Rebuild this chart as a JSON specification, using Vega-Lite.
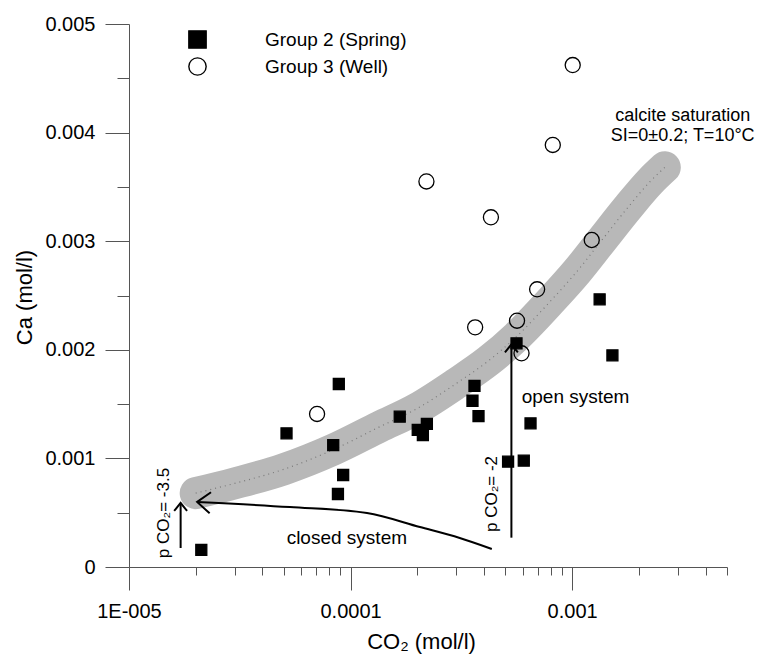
{
  "$schema": "https://vega.github.io/schema/vega-lite/v6.json",
  "width": 598,
  "height": 543,
  "autosize": "none",
  "padding": {"left": 129, "top": 24, "right": 36, "bottom": 88},
  "background": "white",
  "config": {
    "font": "Liberation Sans",
    "view": {"stroke": null},
    "legend": {
      "title": null, "orient": "none", "legendX": 59, "legendY": 6, "padding": 0,
      "labelFontSize": 19, "labelColor": "black", "labelOffset": 58,
      "symbolSize": 300, "rowPadding": 4, "symbolStrokeWidth": 1.4
    }
  },
  "datasets": {
    "pts": [
      {"co2": 0.0000212, "ca": 0.000157, "group": "Group 2 (Spring)"},
      {"co2": 0.0000514, "ca": 0.001231, "group": "Group 2 (Spring)"},
      {"co2": 0.0000835, "ca": 0.001123, "group": "Group 2 (Spring)"},
      {"co2": 0.0000885, "ca": 0.001685, "group": "Group 2 (Spring)"},
      {"co2": 0.0000926, "ca": 0.000847, "group": "Group 2 (Spring)"},
      {"co2": 0.0000877, "ca": 0.000672, "group": "Group 2 (Spring)"},
      {"co2": 0.0001667, "ca": 0.001384, "group": "Group 2 (Spring)"},
      {"co2": 0.000201, "ca": 0.001262, "group": "Group 2 (Spring)"},
      {"co2": 0.000221, "ca": 0.001317, "group": "Group 2 (Spring)"},
      {"co2": 0.000212, "ca": 0.001215, "group": "Group 2 (Spring)"},
      {"co2": 0.0003625, "ca": 0.001667, "group": "Group 2 (Spring)"},
      {"co2": 0.000355, "ca": 0.001531, "group": "Group 2 (Spring)"},
      {"co2": 0.000378, "ca": 0.00139, "group": "Group 2 (Spring)"},
      {"co2": 0.000514, "ca": 0.00097, "group": "Group 2 (Spring)"},
      {"co2": 0.000605, "ca": 0.000979, "group": "Group 2 (Spring)"},
      {"co2": 0.000561, "ca": 0.00206, "group": "Group 2 (Spring)"},
      {"co2": 0.000649, "ca": 0.001323, "group": "Group 2 (Spring)"},
      {"co2": 0.001331, "ca": 0.002465, "group": "Group 2 (Spring)"},
      {"co2": 0.00152, "ca": 0.001949, "group": "Group 2 (Spring)"},
      {"co2": 0.0000706, "ca": 0.001409, "group": "Group 3 (Well)"},
      {"co2": 0.000365, "ca": 0.002207, "group": "Group 3 (Well)"},
      {"co2": 0.000564, "ca": 0.002268, "group": "Group 3 (Well)"},
      {"co2": 0.000591, "ca": 0.001968, "group": "Group 3 (Well)"},
      {"co2": 0.000695, "ca": 0.002557, "group": "Group 3 (Well)"},
      {"co2": 0.001226, "ca": 0.003011, "group": "Group 3 (Well)"},
      {"co2": 0.000818, "ca": 0.003886, "group": "Group 3 (Well)"},
      {"co2": 0.001006, "ca": 0.004622, "group": "Group 3 (Well)"},
      {"co2": 0.00022, "ca": 0.00355, "group": "Group 3 (Well)"},
      {"co2": 0.00043, "ca": 0.00322, "group": "Group 3 (Well)"}
    ],
    "band": [
      {"co2": 0.00002, "ca": 0.00068, "o": 1},
      {"co2": 0.00003, "ca": 0.00077, "o": 2},
      {"co2": 0.00005, "ca": 0.0009, "o": 3},
      {"co2": 0.0000835, "ca": 0.00108, "o": 4},
      {"co2": 0.000135, "ca": 0.00129, "o": 5},
      {"co2": 0.0002, "ca": 0.00146, "o": 6},
      {"co2": 0.0003, "ca": 0.00169, "o": 7},
      {"co2": 0.00042, "ca": 0.0019, "o": 8},
      {"co2": 0.00056, "ca": 0.00212, "o": 9},
      {"co2": 0.0008, "ca": 0.00245, "o": 10},
      {"co2": 0.00105, "ca": 0.00272, "o": 11},
      {"co2": 0.00135, "ca": 0.003, "o": 12},
      {"co2": 0.0018, "ca": 0.00332, "o": 13},
      {"co2": 0.00225, "ca": 0.00355, "o": 14},
      {"co2": 0.00262, "ca": 0.00368, "o": 15}
    ],
    "arrows": [
      {"id": "closed", "o": 1, "co2": 0.0000203, "ca": 0.000599},
      {"id": "closed", "o": 2, "co2": 0.0000532, "ca": 0.000552},
      {"id": "closed", "o": 3, "co2": 0.0001186, "ca": 0.000497},
      {"id": "closed", "o": 4, "co2": 0.0002056, "ca": 0.000368},
      {"id": "closed", "o": 5, "co2": 0.000311, "ca": 0.000267},
      {"id": "closed", "o": 6, "co2": 0.000434, "ca": 0.000166},
      {"id": "small", "o": 1, "co2": 0.0000171, "ca": 0.000175},
      {"id": "small", "o": 2, "co2": 0.0000171, "ca": 0.00059},
      {"id": "open", "o": 1, "co2": 0.000532, "ca": 0.00027},
      {"id": "open", "o": 2, "co2": 0.000532, "ca": 0.00205}
    ],
    "heads": [
      {"id": "closed", "co2": 0.0000203, "ca": 0.000599},
      {"id": "small", "co2": 0.0000171, "ca": 0.00059},
      {"id": "open", "co2": 0.000532, "ca": 0.00205}
    ],
    "notes": [
      {"id": "calcite", "co2": 0.003155, "ca": 0.00411, "label": "calcite saturation\nSI=0±0.2; T=10°C"},
      {"id": "open", "co2": 0.000592, "ca": 0.001565, "label": "open system"},
      {"id": "closed", "co2": 0.0000962, "ca": 0.000267, "label": "closed system"},
      {"id": "rot", "co2": 0.00001438, "ca": 0.000497, "label": "p CO₂= -3.5"},
      {"id": "rot", "co2": 0.000434, "ca": 0.000672, "label": "p CO₂= -2"}
    ]
  },
  "layer": [
    {
      "data": {"name": "band"},
      "mark": {"type": "line", "stroke": "#b8b8b8", "strokeWidth": 32, "strokeCap": "round", "strokeJoin": "round", "interpolate": "monotone"},
      "encoding": {
        "x": {
          "field": "co2", "type": "quantitative",
          "scale": {"type": "log", "domain": [0.00001, 0.005], "nice": false},
          "axis": {
            "values": [0.00001, 0.00002, 0.00003, 0.00004, 0.00005, 0.00006, 0.00007, 0.00008, 0.00009, 0.0001, 0.0002, 0.0003, 0.0004, 0.0005, 0.0006, 0.0007, 0.0008, 0.0009, 0.001, 0.002, 0.003, 0.004, 0.005],
            "tickSize": {"condition": {"test": "datum.value == 0.00001 || datum.value == 0.0001 || datum.value == 0.001", "value": 23}, "value": 8},
            "labelExpr": "datum.value == 0.00001 ? '1E-005' : datum.value == 0.0001 ? '0.0001' : datum.value == 0.001 ? '0.001' : ''",
            "labelFontSize": 20,
            "labelColor": "black",
            "labelPadding": 11,
            "labelFlush": false,
            "labelOverlap": false,
            "labelBound": false,
            "domainColor": "#555555",
            "tickColor": "#555555",
            "grid": false,
            "title": "CO₂  (mol/l)",
            "titleFontSize": 22,
            "titleFontWeight": "normal",
            "titleColor": "black",
            "titleX": 292,
            "titleY": 81,
            "titleBaseline": "alphabetic",
            "titleAlign": "center"
          }
        },
        "y": {
          "field": "ca", "type": "quantitative",
          "scale": {"domain": [0, 0.005], "nice": false, "zero": false},
          "axis": {
            "values": [0, 0.0005, 0.001, 0.0015, 0.002, 0.0025, 0.003, 0.0035, 0.004, 0.0045, 0.005],
            "tickSize": {"condition": {"test": "abs(datum.value*1000 - round(datum.value*1000)) < 0.001", "value": 24}, "value": 12},
            "labelExpr": "abs(datum.value*1000 - round(datum.value*1000)) < 0.001 ? format(datum.value, '.3~f') : ''",
            "labelFontSize": 20,
            "labelColor": "black",
            "labelPadding": 10,
            "labelFlush": false,
            "labelOverlap": false,
            "labelBound": false,
            "domainColor": "#555555",
            "tickColor": "#555555",
            "grid": false,
            "title": "Ca (mol/l)",
            "titleFontSize": 22,
            "titleFontWeight": "normal",
            "titleColor": "black",
            "titleX": -105,
            "titleY": 273,
            "titleBaseline": "middle",
            "titleAlign": "center",
            "titleAngle": 270
          }
        },
        "order": {"field": "o"}
      }
    },
    {
      "data": {"name": "band"},
      "mark": {"type": "line", "stroke": "#7a7a7a", "strokeWidth": 1.2, "strokeDash": [1, 4], "interpolate": "monotone"},
      "encoding": {
        "x": {"field": "co2", "type": "quantitative", "scale": {"type": "log", "domain": [0.00001, 0.005], "nice": false}},
        "y": {"field": "ca", "type": "quantitative", "scale": {"domain": [0, 0.005], "nice": false, "zero": false}},
        "order": {"field": "o"}
      }
    },
    {
      "data": {"name": "arrows"},
      "mark": {"type": "line", "stroke": "black", "strokeWidth": 2, "interpolate": "monotone"},
      "encoding": {
        "x": {"field": "co2", "type": "quantitative", "scale": {"type": "log", "domain": [0.00001, 0.005], "nice": false}},
        "y": {"field": "ca", "type": "quantitative", "scale": {"domain": [0, 0.005], "nice": false, "zero": false}},
        "detail": {"field": "id"},
        "order": {"field": "o"}
      }
    },
    {
      "data": {"name": "heads"},
      "transform": [{"filter": "datum.id == 'closed'"}],
      "mark": {"type": "point", "shape": "M-1,-0.8L0,0L-1,0.8", "filled": false, "stroke": "black", "strokeWidth": 2, "size": 700, "angle": 183.7, "opacity": 1},
      "encoding": {
        "x": {"field": "co2", "type": "quantitative", "scale": {"type": "log", "domain": [0.00001, 0.005], "nice": false}},
        "y": {"field": "ca", "type": "quantitative", "scale": {"domain": [0, 0.005], "nice": false, "zero": false}}
      }
    },
    {
      "data": {"name": "heads"},
      "transform": [{"filter": "datum.id != 'closed'"}],
      "mark": {"type": "point", "shape": "M-1,-0.8L0,0L-1,0.8", "filled": false, "stroke": "black", "strokeWidth": 2, "size": 260, "angle": 270, "opacity": 1},
      "encoding": {
        "x": {"field": "co2", "type": "quantitative", "scale": {"type": "log", "domain": [0.00001, 0.005], "nice": false}},
        "y": {"field": "ca", "type": "quantitative", "scale": {"domain": [0, 0.005], "nice": false, "zero": false}}
      }
    },
    {
      "data": {"name": "pts"},
      "transform": [{"filter": "datum.group == 'Group 2 (Spring)'"}],
      "mark": {"type": "point", "filled": true, "strokeWidth": 1.3, "size": 121, "opacity": 1},
      "encoding": {
        "x": {"field": "co2", "type": "quantitative", "scale": {"type": "log", "domain": [0.00001, 0.005], "nice": false}},
        "y": {"field": "ca", "type": "quantitative", "scale": {"domain": [0, 0.005], "nice": false, "zero": false}},
        "shape": {"field": "group", "type": "nominal", "scale": {"domain": ["Group 2 (Spring)", "Group 3 (Well)"], "range": ["square", "circle"]}},
        "fill": {"field": "group", "type": "nominal", "scale": {"domain": ["Group 2 (Spring)", "Group 3 (Well)"], "range": ["#000000", "transparent"]}},
        "stroke": {"field": "group", "type": "nominal", "scale": {"domain": ["Group 2 (Spring)", "Group 3 (Well)"], "range": ["#000000", "#000000"]}}
      }
    },
    {
      "data": {"name": "pts"},
      "transform": [{"filter": "datum.group == 'Group 3 (Well)'"}],
      "mark": {"type": "point", "filled": true, "strokeWidth": 1.3, "size": 227, "opacity": 1},
      "encoding": {
        "x": {"field": "co2", "type": "quantitative", "scale": {"type": "log", "domain": [0.00001, 0.005], "nice": false}},
        "y": {"field": "ca", "type": "quantitative", "scale": {"domain": [0, 0.005], "nice": false, "zero": false}},
        "shape": {"field": "group", "type": "nominal", "scale": {"domain": ["Group 2 (Spring)", "Group 3 (Well)"], "range": ["square", "circle"]}},
        "fill": {"field": "group", "type": "nominal", "scale": {"domain": ["Group 2 (Spring)", "Group 3 (Well)"], "range": ["#000000", "transparent"]}},
        "stroke": {"field": "group", "type": "nominal", "scale": {"domain": ["Group 2 (Spring)", "Group 3 (Well)"], "range": ["#000000", "#000000"]}}
      }
    },
    {
      "data": {"name": "notes"},
      "transform": [{"filter": "datum.id == 'calcite'"}],
      "mark": {"type": "text", "fontSize": 18, "lineBreak": "\n", "lineHeight": 20, "align": "center", "baseline": "alphabetic", "color": "black"},
      "encoding": {
        "x": {"field": "co2", "type": "quantitative", "scale": {"type": "log", "domain": [0.00001, 0.005], "nice": false}},
        "y": {"field": "ca", "type": "quantitative", "scale": {"domain": [0, 0.005], "nice": false, "zero": false}},
        "text": {"field": "label"}
      }
    },
    {
      "data": {"name": "notes"},
      "transform": [{"filter": "datum.id == 'open'"}],
      "mark": {"type": "text", "fontSize": 19, "align": "left", "baseline": "middle", "color": "black"},
      "encoding": {
        "x": {"field": "co2", "type": "quantitative", "scale": {"type": "log", "domain": [0.00001, 0.005], "nice": false}},
        "y": {"field": "ca", "type": "quantitative", "scale": {"domain": [0, 0.005], "nice": false, "zero": false}},
        "text": {"field": "label"}
      }
    },
    {
      "data": {"name": "notes"},
      "transform": [{"filter": "datum.id == 'closed'"}],
      "mark": {"type": "text", "fontSize": 19, "align": "center", "baseline": "middle", "color": "black"},
      "encoding": {
        "x": {"field": "co2", "type": "quantitative", "scale": {"type": "log", "domain": [0.00001, 0.005], "nice": false}},
        "y": {"field": "ca", "type": "quantitative", "scale": {"domain": [0, 0.005], "nice": false, "zero": false}},
        "text": {"field": "label"}
      }
    },
    {
      "data": {"name": "notes"},
      "transform": [{"filter": "datum.id == 'rot'"}],
      "mark": {"type": "text", "fontSize": 17, "align": "center", "baseline": "middle", "angle": 270, "color": "black"},
      "encoding": {
        "x": {"field": "co2", "type": "quantitative", "scale": {"type": "log", "domain": [0.00001, 0.005], "nice": false}},
        "y": {"field": "ca", "type": "quantitative", "scale": {"domain": [0, 0.005], "nice": false, "zero": false}},
        "text": {"field": "label"}
      }
    }
  ]
}
